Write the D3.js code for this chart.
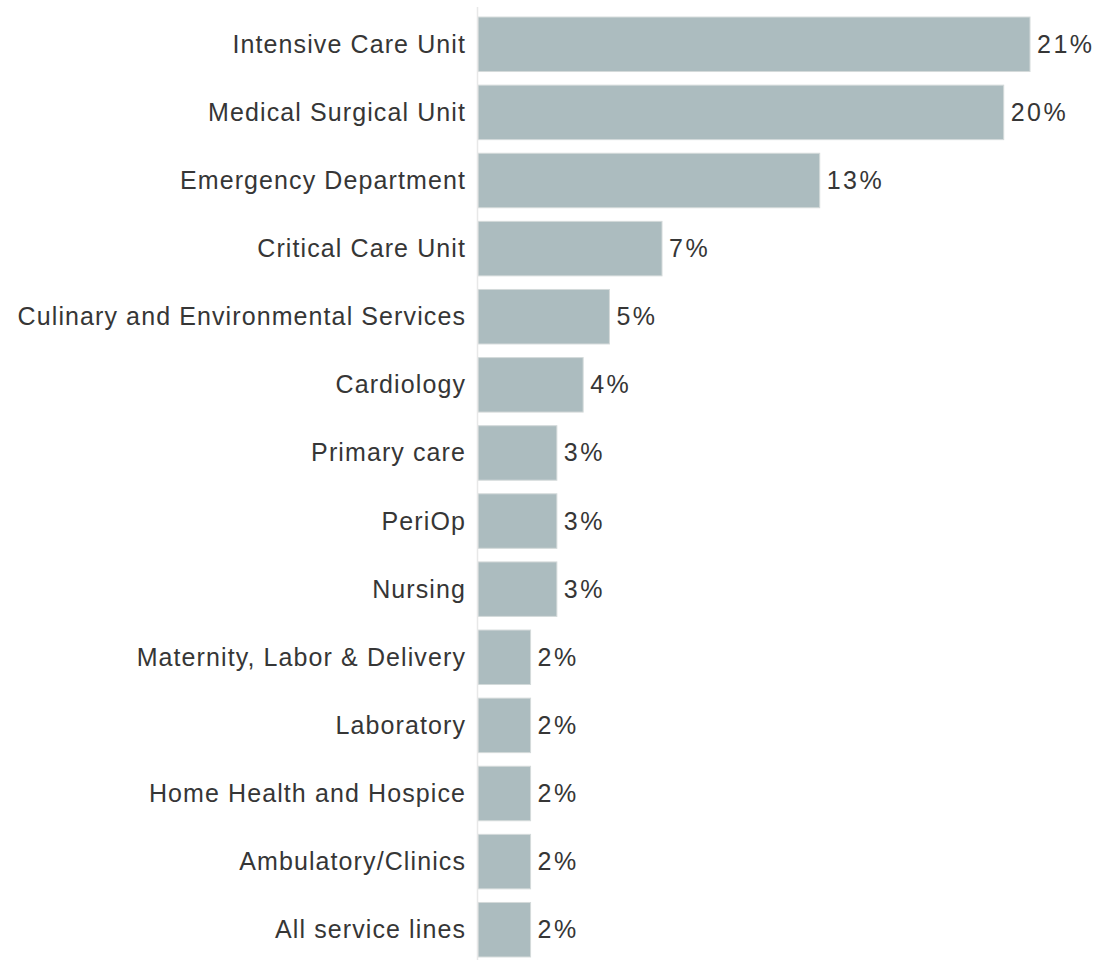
<!DOCTYPE html>
<html>
<head>
<meta charset="utf-8">
<script src="https://cdn.jsdelivr.net/npm/d3@7"></script>
<style>
  html, body { margin: 0; padding: 0; background: #fff; }
  svg { display: block; }
  text { font-family: "Liberation Sans", Arial, Helvetica, sans-serif; fill: #363636; }
</style>
</head>
<body>
<svg id="chart" width="1096" height="960"></svg>
<script>
// Share of responses by service line (percent)
const categories = [
  "Intensive Care Unit",
  "Medical Surgical Unit",
  "Emergency Department",
  "Critical Care Unit",
  "Culinary and Environmental Services",
  "Cardiology",
  "Primary care",
  "PeriOp",
  "Nursing",
  "Maternity, Labor & Delivery",
  "Laboratory",
  "Home Health and Hospice",
  "Ambulatory/Clinics",
  "All service lines"
];
const values = [21, 20, 13, 7, 5, 4, 3, 3, 3, 2, 2, 2, 2, 2];
const valueLabels = values.map(v => v + "%");

const svg = d3.select("#chart");
const axisX = 477.5;

const x = d3.scaleLinear().domain([0, 21]).range([478, 1030]);
const y = d3.scaleBand()
  .domain(categories)
  .range([7.5, 966.5])
  .paddingInner(0.2)
  .paddingOuter(0.14);

const rows = categories.map((c, i) => ({ cat: c, val: values[i], label: valueLabels[i] }));

// bars
svg.append("g").selectAll("rect")
  .data(rows)
  .join("rect")
  .attr("x", x(0))
  .attr("y", d => y(d.cat))
  .attr("width", d => x(d.val) - x(0))
  .attr("height", y.bandwidth())
  .attr("fill", "#acbcbf")
  .attr("stroke", "#d4dada")
  .attr("stroke-width", 1);

// baseline
svg.append("line")
  .attr("x1", axisX).attr("x2", axisX)
  .attr("y1", 7).attr("y2", 960)
  .attr("stroke", "#e8e8e8")
  .attr("stroke-width", 1.5);

// category labels
svg.append("g").selectAll("text")
  .data(rows)
  .join("text")
  .attr("x", 466)
  .attr("y", d => y(d.cat) + y.bandwidth() / 2 - 0.5)
  .attr("text-anchor", "end")
  .attr("dominant-baseline", "central")
  .attr("font-size", 25)
  .attr("letter-spacing", 1.1)
  .text(d => d.cat);

// value labels
svg.append("g").selectAll("text")
  .data(rows)
  .join("text")
  .attr("x", d => x(d.val) + 7)
  .attr("y", d => y(d.cat) + y.bandwidth() / 2 - 0.5)
  .attr("dominant-baseline", "central")
  .attr("font-size", 25)
  .attr("letter-spacing", 2.5)
  .text(d => d.label);
</script>
</body>
</html>
